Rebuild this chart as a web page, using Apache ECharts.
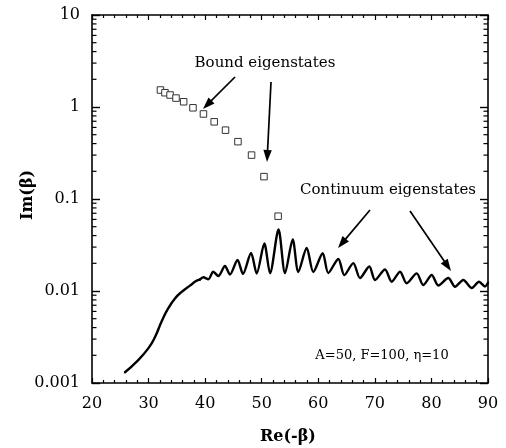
<!DOCTYPE html>
<html><head><meta charset="utf-8">
<script src="https://cdn.jsdelivr.net/npm/echarts@6/dist/echarts.min.js"></script>
<style>html,body{margin:0;padding:0;background:#fff}#c{width:506px;height:448px}</style>
</head><body><div id="c"></div>
<script>
// Bound eigenstates (squares)
const boundRe = [32.1, 32.9, 33.8, 34.85, 36.2, 37.85, 39.7, 41.6, 43.6, 45.8, 48.2, 50.4, 52.9];
const boundIm = [1.53, 1.43, 1.35, 1.25, 1.14, 0.98, 0.84, 0.69, 0.56, 0.42, 0.30, 0.175, 0.065];
// Continuum eigenstates: smooth rise
const riseRe = [25.83,27.90,29.95,31.14,32.32,33.49,34.67,35.86,37.32,38.38,39.09];
const riseIm = [0.00131,0.00171,0.00238,0.00316,0.00470,0.00650,0.00830,0.00980,0.01143,0.01285,0.01334];
// Continuum eigenstates: oscillating part (peaks and troughs)
const oscRe = [39.09,39.67,40.56,41.44,42.33,43.51,44.39,45.72,46.69,48.11,49.11,50.46,51.47,52.97,54.12,55.48,56.47,57.95,59.12,60.78,61.77,63.54,64.60,66.19,67.37,69.02,70.03,71.79,72.98,74.45,75.63,77.40,78.56,80.05,81.22,82.98,84.17,85.64,87.12,88.41,89.47,90.0];
const oscIm = [0.01334,0.01409,0.0134,0.01622,0.01455,0.0187,0.0151,0.0217,0.0153,0.0259,0.0155,0.0328,0.01557,0.0466,0.0156,0.0363,0.0161,0.0293,0.0161,0.0257,0.0157,0.0223,0.0149,0.0201,0.01384,0.01846,0.01318,0.01713,0.01262,0.01622,0.01213,0.01556,0.01162,0.01493,0.01148,0.01384,0.01114,0.01318,0.01078,0.01262,0.0112,0.0123];
// Axis ticks
const xTickLabels = ['20','30','40','50','60','70','80','90'];
const yTickValues = [0.001, 0.01, 0.1, 1, 10];
const yTickLabels = ['0.001', '0.01', '0.1', '1', '10'];
const logMantissas = [2,3,4,5,6,7,8,9];
const logDecades = [0.001, 0.01, 0.1, 1];
// Texts
const xTitle = 'Re(-β)';
const yTitle = 'Im(β)';
const noteBound = 'Bound eigenstates';
const noteCont = 'Continuum eigenstates';
const noteParams = 'A=50, F=100, η=10';

const FONT = '"DejaVu Serif", "Liberation Serif", serif';
const chart = echarts.init(document.getElementById('c'), null, {renderer: 'canvas'});

const minorVals = [];
logDecades.forEach(d => logMantissas.forEach(m => minorVals.push([20, +(m * d).toPrecision(3)])));

function arrow(x1, y1, x2, y2) {
  const dx = x2 - x1, dy = y2 - y1, L = Math.hypot(dx, dy), ux = dx / L, uy = dy / L;
  const hl = 12, hw = 4.2;
  const bx = x2 - ux * hl, by = y2 - uy * hl;
  return [
    {type: 'line', shape: {x1: x1, y1: y1, x2: bx + ux * 2, y2: by + uy * 2}, style: {stroke: '#000', lineWidth: 1.7}},
    {type: 'polygon', shape: {points: [[x2, y2], [bx - uy * hw, by + ux * hw], [bx + uy * hw, by - ux * hw]]}, style: {fill: '#000'}}
  ];
}

const axisCommon = {
  axisLine: {show: true, onZero: false, lineStyle: {color: '#000', width: 1.6}},
  splitLine: {show: false}
};

const option = {
  animation: false,
  backgroundColor: '#fff',
  grid: {left: 92, right: 18, top: 15, bottom: 65, containLabel: false},
  xAxis: [
    Object.assign({}, axisCommon, {
      type: 'value', min: 20, max: 90, interval: 10, position: 'bottom',
      axisTick: {show: true, inside: true, length: 5, lineStyle: {color: '#000', width: 1.2}},
      minorTick: {show: true, splitNumber: 5, length: 3, lineStyle: {color: '#000', width: 1.2}},
      axisLabel: {show: true, margin: 13, color: '#000', fontFamily: FONT, fontSize: 16,
        formatter: v => xTickLabels[Math.round((v - 20) / 10)]}
    }),
    Object.assign({}, axisCommon, {
      type: 'value', min: 20, max: 90, interval: 10, position: 'top',
      axisTick: {show: true, inside: true, length: 5, lineStyle: {color: '#000', width: 1.2}},
      minorTick: {show: true, splitNumber: 5, length: 3, lineStyle: {color: '#000', width: 1.2}},
      axisLabel: {show: false}
    })
  ],
  yAxis: [
    Object.assign({}, axisCommon, {
      type: 'log', logBase: 10, min: 0.001, max: 10, position: 'left',
      axisTick: {show: true, inside: true, length: 8, lineStyle: {color: '#000', width: 1.4}},
      minorTick: {show: false},
      axisLabel: {show: true, margin: 12, color: '#000', fontFamily: FONT, fontSize: 16,
        formatter: v => {
          const i = yTickValues.findIndex(t => Math.abs(Math.log10(t) - Math.log10(v)) < 1e-6);
          return i >= 0 ? yTickLabels[i] : '';
        }}
    }),
    Object.assign({}, axisCommon, {
      type: 'log', logBase: 10, min: 0.001, max: 10, position: 'right',
      axisTick: {show: true, inside: true, length: 8, lineStyle: {color: '#000', width: 1.4}},
      minorTick: {show: false},
      axisLabel: {show: false}
    })
  ],
  series: [
    {
      type: 'custom', silent: true, xAxisIndex: 0, yAxisIndex: 0, clip: false,
      data: minorVals,
      renderItem: function (params, api) {
        const v = api.value(1);
        const pl = api.coord([20, v]);
        const pr = api.coord([90, v]);
        return {type: 'group', children: [
          {type: 'line', shape: {x1: pl[0], y1: pl[1], x2: pl[0] + 4.5, y2: pl[1]}, style: {stroke: '#000', lineWidth: 1.2}},
          {type: 'line', shape: {x1: pr[0], y1: pr[1], x2: pr[0] - 4.5, y2: pr[1]}, style: {stroke: '#000', lineWidth: 1.2}}
        ]};
      }
    },
    {
      name: 'Continuum eigenstates', type: 'line', xAxisIndex: 0, yAxisIndex: 0,
      data: riseRe.map((x, i) => [x, riseIm[i]]),
      smooth: 0.5, showSymbol: false, symbol: 'none',
      lineStyle: {color: '#000', width: 2.4, cap: 'round', join: 'round'}
    },
    {
      name: 'Continuum eigenstates', type: 'line', xAxisIndex: 0, yAxisIndex: 0,
      data: oscRe.map((x, i) => [x, oscIm[i]]),
      smooth: 0.28, showSymbol: false, symbol: 'none',
      lineStyle: {color: '#000', width: 2.4, cap: 'round', join: 'round'}
    },
    {
      name: 'Bound eigenstates', type: 'scatter', xAxisIndex: 0, yAxisIndex: 0,
      data: boundRe.map((x, i) => [x, boundIm[i]]),
      symbol: 'rect', symbolSize: 6.5,
      itemStyle: {color: '#fff', borderColor: '#333', borderWidth: 1, opacity: 1}
    }
  ],
  graphic: [].concat(
    [
      {type: 'text', x: 265, y: 63, style: {text: noteBound, font: '15px ' + FONT, fill: '#000', align: 'center', verticalAlign: 'middle'}},
      {type: 'text', x: 388, y: 190, style: {text: noteCont, font: '15px ' + FONT, fill: '#000', align: 'center', verticalAlign: 'middle'}},
      {type: 'text', x: 382, y: 356, style: {text: noteParams, font: '13px ' + FONT, fill: '#000', align: 'center', verticalAlign: 'middle'}},
      {type: 'text', x: 288, y: 437, style: {text: xTitle, font: 'bold 16px ' + FONT, fill: '#000', align: 'center', verticalAlign: 'middle'}},
      {type: 'text', x: 28, y: 195, rotation: Math.PI / 2, style: {text: yTitle, font: 'bold 16px ' + FONT, fill: '#000', align: 'center', verticalAlign: 'middle'}}
    ],
    arrow(235, 77, 203, 109),
    arrow(271, 82, 267, 162),
    arrow(370, 210, 338, 248),
    arrow(410, 211, 451, 271)
  )
};
chart.setOption(option);
</script>
</body></html>
